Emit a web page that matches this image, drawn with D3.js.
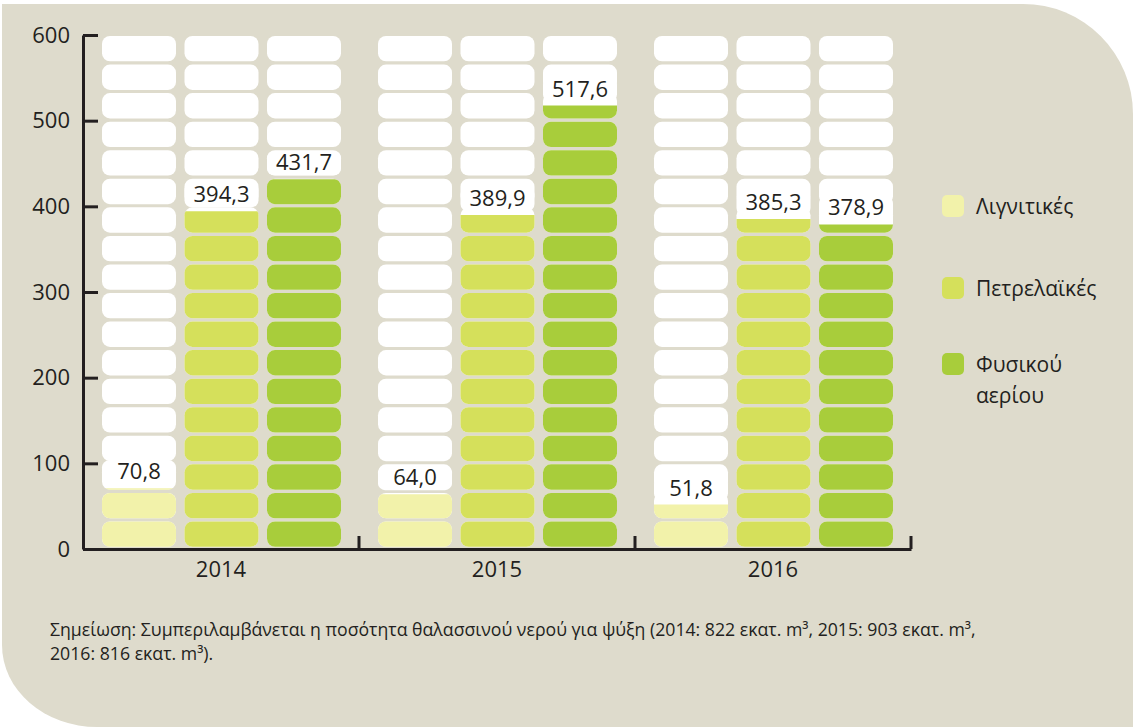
<!DOCTYPE html>
<html>
<head>
<meta charset="utf-8">
<script src="https://cdn.jsdelivr.net/npm/d3@7"></script>
<style>
  body { margin: 0; background: #ffffff; }
  svg { display: block; font-family: "Open Sans", sans-serif; }
</style>
</head>
<body>
<div class="container"></div>
<script>
// data
const years = ['2014', '2015', '2016'];
const series = ['Λιγνιτικές', 'Πετρελαϊκές', 'Φυσικού αερίου'];
const lignite = [70.8, 64.0, 51.8];
const oil = [394.3, 389.9, 385.3];
const gas = [431.7, 517.6, 378.9];
const yTicks = [0, 100, 200, 300, 400, 500, 600];
const note1 = 'Σημείωση: Συμπεριλαμβάνεται η ποσότητα θαλασσινού νερού για ψύξη (2014: 822 εκατ. m³, 2015: 903 εκατ. m³,';
const note2 = '2016: 816 εκατ. m³).';

const colors = ['#f2f2aa', '#d5e05b', '#a8cd3b'];
const cellCount = 18;

const values = [lignite, oil, gas];
const data = [];
years.forEach(function(yr, i) {
  series.forEach(function(s, j) {
    data.push({ year: yr, series: s, value: values[j][i], idx: j });
  });
});

const W = 1133, H = 727;
const svg = d3.select('.container').append('svg')
  .attr('width', W).attr('height', H);

// beige panel
svg.append('path')
  .attr('d', 'M2,4 H1023 A110,110 0 0 1 1133,114 V727 H97 A95,82 0 0 1 2,645 Z')
  .attr('fill', '#dedbcc');

const y = d3.scaleLinear().domain([0, 600]).range([549, 35]);
const x0 = d3.scaleBand().domain(years).range([83, 911]);
const x1 = d3.scaleBand().domain(series).range([19, 258]).paddingInner(0.103).paddingOuter(0);

const step = 600 / cellCount;
const cells = d3.range(cellCount).map(function(k) { return { lo: k * step, hi: (k + 1) * step }; });

const defs = svg.append('defs');

const col = svg.append('g').selectAll('g')
  .data(data).enter().append('g')
  .attr('transform', function(d) { return 'translate(' + (x0(d.year) + x1(d.series)) + ',0)'; });

// white empty cells
col.selectAll('.empty')
  .data(cells).enter().append('rect')
  .attr('class', 'empty')
  .attr('x', 0)
  .attr('y', function(c) { return y(c.hi) + 1; })
  .attr('width', x1.bandwidth())
  .attr('height', function(c) { return y(c.lo) - y(c.hi) - 3.2; })
  .attr('rx', 8)
  .attr('fill', '#ffffff');

// filled cells clipped at the value
col.each(function(d, i) {
  defs.append('clipPath').attr('id', 'clip' + i)
    .append('rect')
    .attr('x', -2).attr('width', x1.bandwidth() + 4)
    .attr('y', y(d.value)).attr('height', y(0) - y(d.value) + 2);
  d3.select(this).append('g')
    .attr('clip-path', 'url(#clip' + i + ')')
    .selectAll('rect')
    .data(cells.filter(function(c) { return c.lo < d.value; }))
    .enter().append('rect')
    .attr('x', 0)
    .attr('y', function(c) { return y(c.hi) + 1; })
    .attr('width', x1.bandwidth())
    .attr('height', function(c) { return y(c.lo) - y(c.hi) - 3.2; })
    .attr('rx', 8)
    .attr('fill', colors[d.idx]);
});

// value labels
const fmt = function(v) { return d3.format('.1f')(v).replace('.', ','); };
col.append('rect')
  .attr('x', 0)
  .attr('y', function(d) { return y(d.value) - 28; })
  .attr('width', x1.bandwidth())
  .attr('height', 24)
  .attr('rx', 7)
  .attr('fill', '#ffffff');
col.append('text')
  .attr('x', x1.bandwidth() / 2)
  .attr('y', function(d) { return y(d.value) - 9; })
  .attr('text-anchor', 'middle')
  .attr('font-size', '22px')
  .attr('fill', '#231f20')
  .text(function(d) { return fmt(d.value); });

// y axis
const yAxis = svg.append('g')
  .attr('transform', 'translate(83,0)')
  .call(d3.axisLeft(y).tickValues(yTicks).tickSizeInner(-15).tickSizeOuter(0).tickPadding(13));
yAxis.selectAll('text').attr('font-size', '22px').attr('fill', '#231f20').attr('font-family', '"Open Sans", sans-serif');
yAxis.selectAll('line').attr('stroke', '#231f20').attr('stroke-width', 3);
yAxis.select('.domain').attr('stroke', '#231f20').attr('stroke-width', 3);

// x axis
const xAxis = svg.append('g')
  .attr('transform', 'translate(0,549)')
  .call(d3.axisBottom(x0).tickSize(0).tickPadding(12));
xAxis.selectAll('text').attr('font-size', '22px').attr('fill', '#231f20').attr('font-family', '"Open Sans", sans-serif');
xAxis.select('.domain').attr('stroke', '#231f20').attr('stroke-width', 3);
xAxis.selectAll('.sep')
  .data(years).enter().append('line')
  .attr('class', 'sep')
  .attr('x1', function(d) { return x0(d) + x0.bandwidth(); })
  .attr('x2', function(d) { return x0(d) + x0.bandwidth(); })
  .attr('y1', 0).attr('y2', -13)
  .attr('stroke', '#231f20').attr('stroke-width', 3);

// legend
const legend = svg.append('g').attr('transform', 'translate(942,0)');
const legendY = [195, 277, 353];
const legendLines = [['Λιγνιτικές'], ['Πετρελαϊκές'], ['Φυσικού', 'αερίου']];
const lg = legend.selectAll('g').data(series).enter().append('g')
  .attr('transform', function(d, i) { return 'translate(0,' + legendY[i] + ')'; });
lg.append('rect')
  .attr('width', 22).attr('height', 22).attr('rx', 5)
  .attr('fill', function(d, i) { return colors[i]; });
lg.append('text')
  .attr('x', 34).attr('y', 19)
  .attr('font-size', '21px')
  .attr('fill', '#231f20')
  .selectAll('tspan')
  .data(function(d, i) { return legendLines[i]; })
  .enter().append('tspan')
  .attr('x', 34)
  .attr('dy', function(d, k) { return k === 0 ? 0 : 31; })
  .text(function(d) { return d; });

// footnote
const note = svg.append('text')
  .attr('x', 50).attr('y', 636)
  .attr('font-size', '17.7px')
  .attr('fill', '#231f20');
note.append('tspan').attr('x', 50).text(note1);
note.append('tspan').attr('x', 50).attr('dy', 24).text(note2);
</script>
</body>
</html>
